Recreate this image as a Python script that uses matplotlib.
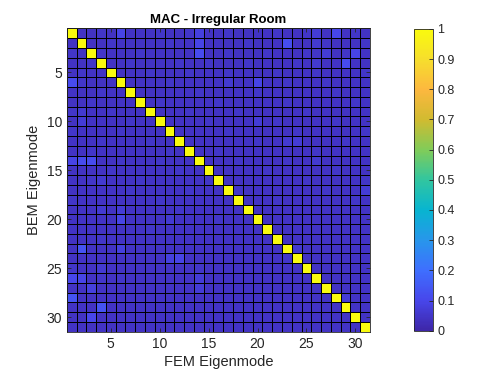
import matplotlib
matplotlib.use('Agg')
import matplotlib.pyplot as plt
import numpy as np
from matplotlib.colors import LinearSegmentedColormap

plt.rcParams['font.family'] = ['Liberation Sans', 'DejaVu Sans']

# MAC values in hundredths, rows = BEM mode, cols = FEM mode
mac_rows = [
    "100 4 4 5 4 9 4 4 4 5 4 4 5 8 4 4 5 4 4 4 4 5 4 4 5 7 4 10 4 5 4",
    "4 100 4 4 5 4 4 4 4 4 5 4 4 9 4 4 4 4 5 4 4 4 12 4 4 6 5 4 4 4 5",
    "5 4 100 5 4 4 4 5 4 4 4 4 4 11 4 4 5 4 4 4 5 4 4 4 5 5 7 4 5 9 4",
    "4 4 5 100 4 4 5 4 4 4 4 5 4 4 5 4 4 4 5 4 4 4 4 5 4 6 4 4 11 4 4",
    "4 5 4 4 100 4 4 4 5 4 4 4 5 4 4 4 5 4 4 4 4 5 4 4 4 5 4 4 4 4 5",
    "11 5 4 4 4 100 4 4 4 4 5 4 4 4 4 4 6 4 4 9 4 4 5 4 4 4 5 4 4 4 4",
    "4 4 4 5 4 4 100 4 4 4 4 4 4 5 4 4 4 4 4 5 4 4 4 4 4 4 4 5 4 4 4",
    "4 4 5 4 4 4 4 100 4 5 4 4 4 4 4 5 4 4 4 4 4 4 5 4 4 4 4 4 4 5 4",
    "5 6 4 4 5 4 4 4 100 4 4 4 5 4 4 4 4 5 4 4 4 4 4 4 5 4 4 4 4 4 4",
    "4 7 4 4 4 4 5 4 4 100 4 4 4 4 5 4 4 4 4 7 4 5 4 4 4 4 4 5 4 4 4",
    "5 4 4 4 4 5 4 4 4 4 100 4 4 4 4 4 5 4 4 4 4 4 4 5 4 4 4 4 4 4 5",
    "4 4 4 5 4 4 4 4 5 4 4 100 4 4 4 4 4 4 4 5 4 4 6 7 4 4 4 4 5 4 4",
    "4 4 5 4 4 4 4 4 4 4 5 4 100 4 4 5 4 4 4 4 4 4 4 4 4 5 4 4 4 4 4",
    "9 11 11 4 4 5 4 4 4 5 4 4 4 100 4 4 4 5 4 4 4 4 5 4 4 6 4 4 4 4 4",
    "4 4 4 4 5 4 4 4 4 4 4 5 4 4 100 4 4 4 4 4 5 4 4 4 4 4 4 5 4 4 4",
    "4 4 5 6 4 4 4 5 4 4 4 4 4 4 5 100 4 4 4 4 4 4 4 4 5 4 4 4 4 4 5",
    "4 4 4 4 4 4 5 4 4 4 4 4 5 4 4 4 100 5 4 4 4 4 4 4 4 4 5 4 4 4 7",
    "5 4 4 4 4 4 4 4 4 5 4 4 4 4 4 4 4 100 4 4 4 5 4 4 4 4 4 4 4 5 4",
    "4 4 4 6 4 7 4 4 4 4 4 5 4 4 4 4 4 4 100 4 4 4 4 4 4 4 4 4 4 4 4",
    "4 4 4 4 4 9 4 4 4 4 6 4 4 4 4 5 4 4 4 100 4 4 4 4 4 4 4 4 4 4 4",
    "4 4 4 4 4 4 4 4 5 4 4 4 4 4 4 4 4 4 4 4 100 4 4 4 4 4 4 4 4 4 4",
    "4 4 4 5 4 4 4 4 4 4 4 4 4 4 4 4 4 4 4 4 4 100 4 4 4 4 4 4 4 4 4",
    "4 13 4 4 4 8 4 4 4 4 4 4 4 4 4 4 4 4 4 4 4 4 100 6 4 4 4 4 4 4 4",
    "4 4 4 4 4 4 4 4 4 4 8 9 4 4 4 4 4 4 4 4 4 4 5 100 4 4 4 4 4 4 4",
    "5 4 4 6 4 4 4 4 4 4 4 4 4 5 4 4 4 4 4 4 4 4 4 4 100 4 4 4 4 4 4",
    "10 9 4 5 4 5 4 4 4 4 4 4 4 7 4 4 4 4 4 4 4 4 4 4 4 100 4 4 4 4 4",
    "4 4 8 4 4 4 4 4 4 4 4 4 4 7 4 4 4 4 4 4 4 4 4 4 4 4 100 4 4 4 4",
    "13 4 4 4 4 4 4 4 4 4 4 4 4 4 4 4 4 4 4 4 4 4 4 4 4 4 4 100 7 4 4",
    "4 4 4 13 4 4 4 4 4 4 4 4 4 4 4 4 4 4 4 4 4 4 4 4 4 4 4 4 100 4 4",
    "4 4 10 4 4 4 4 4 4 4 4 4 4 4 4 4 4 4 4 4 4 4 4 4 4 4 4 4 4 100 4",
    "4 4 4 4 4 4 4 4 4 4 4 4 4 4 4 4 4 4 4 4 4 4 4 4 4 4 4 4 4 4 100",
]
mac = np.array([[int(v) for v in r.split()] for r in mac_rows]) / 100.0
n = mac.shape[0]
ticks = [5, 10, 15, 20, 25, 30]
cbar_ticks = [0, 0.1, 0.2, 0.3, 0.4, 0.5, 0.6, 0.7, 0.8, 0.9, 1]

# approximate MATLAB parula
parula_pts = [
    (0.2422, 0.1504, 0.6603), (0.2803, 0.2782, 0.9221), (0.2440, 0.4358, 0.9988),
    (0.1540, 0.5902, 0.9218), (0.0297, 0.7082, 0.8163), (0.1938, 0.7758, 0.6251),
    (0.5044, 0.7993, 0.3480), (0.8185, 0.7327, 0.1882), (0.9892, 0.7209, 0.2469),
    (0.9657, 0.8696, 0.1759), (0.9763, 0.9831, 0.0538),
]
parula = LinearSegmentedColormap.from_list('parula', parula_pts, N=256)

fig = plt.figure(figsize=(4.97, 3.73), dpi=100)
ax = fig.add_axes([0.1344, 0.1107, 0.610, 0.813])
edges = np.arange(0.5, n + 1, 1)
mesh = ax.pcolormesh(edges, edges, mac, cmap=parula, vmin=0, vmax=1,
                     edgecolors='k', linewidth=0.5)
ax.set_xlim(0.5, n + 0.5)
ax.set_ylim(n + 0.5, 0.5)
ax.set_xticks(ticks)
ax.set_yticks(ticks)
ax.tick_params(direction='in', length=3, width=0.6, labelsize=10,
               colors='#262626', top=True, right=True)
for s in ax.spines.values():
    s.set_color('#262626')
    s.set_linewidth(0.6)
ax.set_xlabel('FEM Eigenmode', fontsize=10.5, color='#262626', labelpad=3)
ax.set_ylabel('BEM Eigenmode', fontsize=10.5, color='#262626', labelpad=4)
ax.set_title('MAC - Irregular Room', fontsize=9.5, fontweight='bold', pad=4)

cax = fig.add_axes([0.8336, 0.1134, 0.037, 0.809])
cb = fig.colorbar(mesh, cax=cax, ticks=cbar_ticks)
cb.ax.set_yticklabels([f'{t:g}' for t in cbar_ticks])
cb.ax.tick_params(direction='in', length=3, width=0.6, labelsize=9, colors='#262626')
cb.outline.set_edgecolor('#262626')
cb.outline.set_linewidth(0.6)

plt.savefig('out.png', dpi=100)
